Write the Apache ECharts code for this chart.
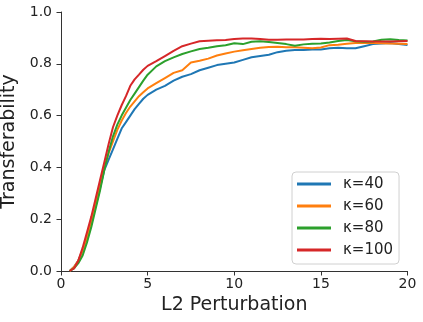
<!DOCTYPE html>
<html>
<head>
<meta charset="utf-8">
<script src="https://cdn.jsdelivr.net/npm/echarts@6/dist/echarts.min.js"></script>
<style>
  html, body { margin: 0; padding: 0; background: #fff; }
  #chart { width: 423px; height: 322px; }
</style>
</head>
<body>
<div id="chart"></div>
<script>
// L2 perturbation sample points (shared by all series)
const perturbation = [
  0.5, 0.75, 1, 1.25, 1.5, 1.75, 2, 2.25, 2.5, 2.75, 3, 3.25, 3.5, 3.75, 4, 4.25, 4.5, 4.75, 5,
  5.5, 6, 6.5, 7, 7.5, 8, 8.5, 9, 9.5, 10, 10.5, 11, 11.5, 12, 12.5, 13, 13.5, 14, 14.5, 15,
  15.5, 16, 16.5, 17, 17.5, 18, 18.5, 19, 19.5, 20
];

const kappa40 = [
  0.0, 0.015, 0.04, 0.08, 0.13, 0.19, 0.25, 0.32, 0.39, 0.43, 0.47, 0.51, 0.55, 0.575, 0.60, 0.625, 0.645, 0.665, 0.68,
  0.70, 0.715, 0.735, 0.75, 0.76, 0.775, 0.785, 0.795, 0.80, 0.805, 0.815, 0.825, 0.83, 0.835, 0.845, 0.85, 0.853, 0.853, 0.855, 0.855,
  0.86, 0.862, 0.86, 0.86, 0.868, 0.876, 0.878, 0.88, 0.876, 0.873
];
const kappa60 = [
  0.0, 0.015, 0.04, 0.08, 0.13, 0.19, 0.26, 0.33, 0.40, 0.455, 0.50, 0.545, 0.58, 0.61, 0.635, 0.655, 0.675, 0.69, 0.705,
  0.725, 0.745, 0.765, 0.775, 0.805, 0.812, 0.82, 0.832, 0.84, 0.847, 0.852, 0.857, 0.862, 0.865, 0.866, 0.864, 0.864, 0.862, 0.86, 0.863,
  0.872, 0.874, 0.877, 0.88, 0.88, 0.88, 0.879, 0.878, 0.877, 0.876
];
const kappa80 = [
  0.0, 0.01, 0.03, 0.06, 0.11, 0.17, 0.24, 0.31, 0.39, 0.46, 0.52, 0.565, 0.60, 0.63, 0.66, 0.685, 0.71, 0.735, 0.758,
  0.79, 0.81, 0.825, 0.838, 0.848, 0.857, 0.862, 0.868, 0.872, 0.879, 0.876, 0.885, 0.887, 0.884, 0.88, 0.876, 0.87, 0.875, 0.877, 0.878,
  0.882, 0.888, 0.892, 0.887, 0.885, 0.886, 0.893, 0.895, 0.892, 0.89
];
const kappa100 = [
  0.0, 0.01, 0.04, 0.09, 0.15, 0.21, 0.28, 0.35, 0.42, 0.49, 0.555, 0.60, 0.64, 0.675, 0.715, 0.74, 0.758, 0.777, 0.792,
  0.81, 0.83, 0.85, 0.868, 0.878, 0.887, 0.889, 0.891, 0.892, 0.896, 0.898, 0.898, 0.896, 0.893, 0.893, 0.894, 0.894, 0.894, 0.896, 0.897,
  0.896, 0.897, 0.898, 0.888, 0.887, 0.886, 0.886, 0.886, 0.887, 0.888
];

const seriesNames = ['κ=40', 'κ=60', 'κ=80', 'κ=100'];
const seriesValues = [kappa40, kappa60, kappa80, kappa100];
const colors = ['#1f77b4', '#ff7f0e', '#2ca02c', '#d62728'];

const font = 'DejaVu Sans';
const chart = echarts.init(document.getElementById('chart'));

chart.setOption({
  animation: false,
  color: colors,
  grid: { left: 61, right: 15.5, top: 12, bottom: 51, containLabel: false, outerBoundsMode: 'none' },
  legend: {
    orient: 'vertical',
    left: 292,
    top: 172,
    padding: [3, 6, 5, 5],
    itemGap: 4,
    itemWidth: 34,
    itemHeight: 3,
    icon: 'rect',
    borderColor: '#d0d0d0',
    borderWidth: 1,
    borderRadius: 4,
    backgroundColor: 'rgba(255,255,255,0.8)',
    textStyle: { fontFamily: font, fontSize: 15, color: '#222', lineHeight: 18, padding: [0, 0, 0, 7] },
    data: seriesNames
  },
  xAxis: {
    type: 'value',
    min: 0,
    max: 20,
    interval: 5,
    name: 'L2 Perturbation',
    nameLocation: 'middle',
    nameGap: 22,
    nameTextStyle: { fontFamily: font, fontSize: 19, color: '#222' },
    axisLine: { lineStyle: { color: '#333', width: 1 } },
    axisTick: { length: 4.5, lineStyle: { color: '#333' } },
    axisLabel: { margin: 6, fontFamily: font, fontSize: 14, color: '#222' },
    splitLine: { show: false }
  },
  yAxis: {
    type: 'value',
    min: 0,
    max: 1,
    interval: 0.2,
    name: 'Transferability',
    nameLocation: 'middle',
    nameGap: 36,
    nameTextStyle: { fontFamily: font, fontSize: 19, color: '#222' },
    axisLine: { show: true, lineStyle: { color: '#333', width: 1 } },
    axisTick: { show: true, length: 4.5, lineStyle: { color: '#333' } },
    axisLabel: { margin: 9, fontFamily: font, fontSize: 14, color: '#222', formatter: v => v.toFixed(1) },
    splitLine: { show: false }
  },
  series: seriesNames.map((name, i) => ({
    name,
    type: 'line',
    showSymbol: false,
    symbol: 'none',
    lineStyle: { width: 2, color: colors[i] },
    itemStyle: { color: colors[i] },
    data: perturbation.map((x, j) => [x, seriesValues[i][j]])
  }))
});
</script>
</body>
</html>
